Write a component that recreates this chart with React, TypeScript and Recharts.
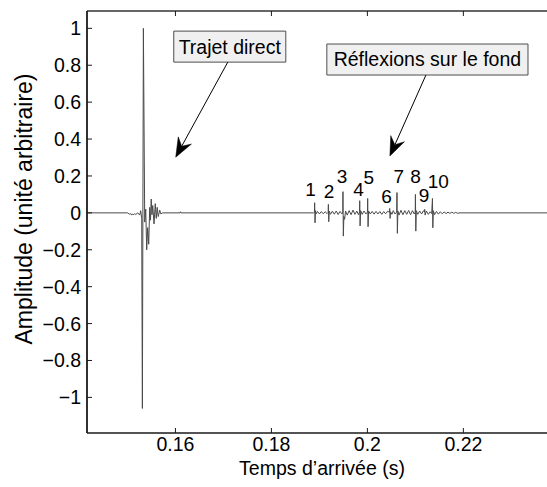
import React from 'react';
import {
  ComposedChart,
  Line,
  XAxis,
  YAxis,
  ReferenceArea,
  ReferenceLine,
  ReferenceDot,
} from 'recharts';

// ---- data ----
const times: number[] = [
  0.14157, 0.15005, 0.15047, 0.15068, 0.15089, 0.1511, 0.1513, 0.15151, 0.15172, 0.15214,
  0.15255, 0.15276, 0.15297, 0.15311, 0.15332, 0.1536, 0.15381, 0.15401, 0.15422, 0.15443,
  0.15464, 0.1548, 0.15495, 0.15511, 0.15527, 0.15554, 0.15579, 0.156, 0.1562, 0.15641,
  0.15673, 0.15693, 0.15735, 0.16095, 0.16104, 0.16113,
  0.1888, 0.18897, 0.18901, 0.18909, 0.18918, 0.1893, 0.1896, 0.19, 0.1904, 0.1908,
  0.1912, 0.1916, 0.19183, 0.19187, 0.19195, 0.19205, 0.1923, 0.1927, 0.1931, 0.1935,
  0.1939, 0.1943, 0.1947, 0.19487, 0.19491, 0.19499, 0.1951, 0.19525, 0.19545, 0.1958,
  0.1962, 0.1966, 0.197, 0.1974, 0.1978, 0.19815, 0.19836, 0.1984, 0.19848, 0.1986,
  0.1989, 0.1993, 0.1997, 0.20002, 0.20006, 0.20014, 0.20025, 0.2006, 0.201, 0.2014,
  0.2018, 0.2022, 0.2026, 0.203, 0.2034, 0.2038, 0.2042, 0.20461, 0.20465, 0.20473,
  0.20485, 0.2051, 0.2054, 0.20575, 0.2061, 0.20617, 0.20625, 0.20636, 0.2066, 0.207,
  0.2074, 0.2078, 0.2082, 0.2086, 0.209, 0.2094, 0.20975, 0.20997, 0.21001, 0.21009,
  0.2102, 0.2105, 0.2109, 0.2113, 0.2117, 0.21191, 0.21195, 0.21203, 0.2123, 0.2127,
  0.2131, 0.2134, 0.21356, 0.21364, 0.21375, 0.214, 0.2144, 0.2148, 0.2152, 0.2156,
  0.216, 0.2164, 0.2168, 0.2172, 0.2176, 0.218, 0.2184, 0.2188, 0.2193, 0.23764,
];
const amplitudes: number[] = [
  0, 0, -0.008, -0.004, -0.012, -0.006, -0.01, -0.004, -0.009, 0.0,
  -0.012, 0.012, -0.03, -1.06, 1.0, -0.05, 0.02, -0.2, -0.08, -0.17,
  0.03, -0.04, 0.075, -0.01, 0.04, -0.06, 0.05, -0.03, 0.03, -0.02,
  0.015, -0.005, 0, 0, 0.006, 0,
  0, 0.004, 0.055, -0.054, 0.012, -0.006, 0.008, -0.006, 0.007, -0.005,
  0.006, -0.004, 0.003, 0.046, -0.048, 0.01, -0.008, 0.009, -0.007, 0.01,
  -0.009, 0.008, -0.006, 0.004, 0.115, -0.126, -0.02, -0.035, 0.01, -0.012,
  0.012, -0.01, 0.015, -0.008, 0.01, -0.01, 0.005, 0.066, -0.071, 0.012,
  -0.008, 0.01, -0.006, 0.004, 0.078, -0.075, 0.01, -0.006, 0.008, -0.007,
  0.008, -0.006, 0.007, -0.008, 0.007, -0.005, 0.008, 0.004, 0.024, -0.03,
  0.006, -0.008, 0.012, -0.006, 0.004, 0.11, -0.111, 0.01, -0.012, 0.014,
  -0.01, 0.012, -0.008, 0.013, -0.01, 0.012, -0.006, 0.004, 0.1, -0.099,
  0.012, -0.008, 0.01, -0.006, 0.012, 0.004, 0.019, -0.012, 0.01, -0.008,
  0.006, -0.004, 0.078, -0.081, 0.012, -0.01, 0.008, -0.007, 0.006, -0.005,
  0.005, -0.004, 0.004, -0.003, 0.004, -0.003, 0.003, -0.002, 0, 0,
];

const xTicks = [0.16, 0.18, 0.2, 0.22];
const xTickLabels = ['0.16', '0.18', '0.2', '0.22'];
const yTicks = [-1, -0.8, -0.6, -0.4, -0.2, 0, 0.2, 0.4, 0.6, 0.8, 1];
const yTickLabels = ['\u22121', '\u22120.8', '\u22120.6', '\u22120.4', '\u22120.2', '0', '0.2', '0.4', '0.6', '0.8', '1'];

const peakLabels = ['1', '2', '3', '4', '5', '6', '7', '8', '9', '10'];
const peakLabelX = [0.18815, 0.19203, 0.19474, 0.19816, 0.20031, 0.204, 0.20657, 0.21005, 0.2118, 0.21477];
const peakLabelY = [0.127, 0.114, 0.195, 0.127, 0.193, 0.091, 0.199, 0.199, 0.093, 0.168];

const boxTexts = ['Trajet direct', 'R\u00e9flexions sur le fond'];
const boxX1 = [0.15965, 0.19155];
const boxX2 = [0.183, 0.23347];
const boxY1 = [0.817, 0.747];
const boxY2 = [0.985, 0.915];
const arrowTail = [
  { x: 0.17091, y: 0.817 },
  { x: 0.2122, y: 0.747 },
];
const arrowTip = [
  { x: 0.16006, y: 0.302 },
  { x: 0.20469, y: 0.308 },
];

const xDomain: [number, number] = [0.14157, 0.23764];
const yDomain: [number, number] = [-1.193, 1.094];

const signal = times.map((t, i) => ({ t, a: amplitudes[i] }));

const FONT = '"Liberation Sans", Arial, Helvetica, sans-serif';
const AXIS_COLOR = '#1a1a1a';
const PLOT_TOP = 11;
const PLOT_BOTTOM = 433;
const PLOT_LEFT = 87;

const BottomTick = (props: any) => {
  const { x, payload } = props;
  const i = xTicks.indexOf(payload.value);
  const y = PLOT_BOTTOM;
  return (
    <g>
      <line x1={x} y1={y} x2={x} y2={y - 5} stroke={AXIS_COLOR} strokeWidth={1} />
      <text x={x} y={y + 18} textAnchor="middle" fontSize={19.5} fill="#000" fontFamily={FONT}>
        {i >= 0 ? xTickLabels[i] : ''}
      </text>
    </g>
  );
};

const TopTick = (props: any) => {
  const { x } = props;
  return <line x1={x} y1={PLOT_TOP} x2={x} y2={PLOT_TOP + 5} stroke={AXIS_COLOR} strokeWidth={1} />;
};

const LeftTick = (props: any) => {
  const { y, payload } = props;
  const i = yTicks.findIndex((v) => Math.abs(v - payload.value) < 1e-9);
  const x = PLOT_LEFT;
  return (
    <g>
      <line x1={x} y1={y} x2={x + 5} y2={y} stroke={AXIS_COLOR} strokeWidth={1} />
      <text x={x - 6} y={y} textAnchor="end" dominantBaseline="central" fontSize={19.5} fill="#000" fontFamily={FONT}>
        {i >= 0 ? yTickLabels[i] : ''}
      </text>
    </g>
  );
};

const XLabel = () => (
  <text x={322} y={PLOT_BOTTOM + 42} textAnchor="middle" fontSize={19.5} fill="#000" fontFamily={FONT}>
    Temps d{'\u2019'}arriv{'\u00e9'}e (s)
  </text>
);

const YLabel = () => {
  const cy = 209;
  const cx = 32;
  return (
    <text
      x={cx}
      y={cy}
      transform={`rotate(-90, ${cx}, ${cy})`}
      textAnchor="middle"
      fontSize={23}
      fill="#000"
      fontFamily={FONT}
    >
      Amplitude (unit{'\u00e9'} arbitraire)
    </text>
  );
};

const Arrow = (p: any) => {
  const { x1, y1, x2, y2 } = p;
  const dx = x2 - x1;
  const dy = y2 - y1;
  const len = Math.hypot(dx, dy) || 1;
  const ux = dx / len;
  const uy = dy / len;
  const nx = -uy;
  const ny = ux;
  const L = 19;
  const W = 7.5;
  const bx = x2 - ux * L;
  const by = y2 - uy * L;
  const notchX = x2 - ux * L * 0.65;
  const notchY = y2 - uy * L * 0.65;
  const pts = [
    [x2, y2],
    [bx + nx * W, by + ny * W],
    [notchX, notchY],
    [bx - nx * W, by - ny * W],
  ]
    .map((q) => q.join(','))
    .join(' ');
  return (
    <g>
      <line x1={x1} y1={y1} x2={notchX} y2={notchY} stroke="#000" strokeWidth={1} />
      <polygon points={pts} fill="#000" stroke="#000" strokeWidth={0.5} />
    </g>
  );
};

export default function App() {
  return (
    <div
      style={{
        position: 'absolute',
        left: 0,
        top: 0,
        width: 547,
        height: 487,
        overflow: 'hidden',
        background: '#fff',
        fontFamily: FONT,
      }}
    >
      <ComposedChart
        width={550}
        height={487}
        data={signal}
        margin={{ top: PLOT_TOP - 1, right: 2, bottom: 487 - PLOT_BOTTOM - 1, left: PLOT_LEFT - 1 }}
        style={{ fontFamily: FONT }}
      >
        <XAxis
          dataKey="t"
          type="number"
          domain={xDomain}
          allowDataOverflow
          ticks={xTicks}
          interval={0}
          height={1}
          tickSize={0}
          tickMargin={0}
          tickLine={false}
          tick={BottomTick}
          axisLine={{ stroke: AXIS_COLOR, strokeWidth: 1.6 }}
          label={{ content: XLabel }}
        />
        <XAxis
          xAxisId="top"
          orientation="top"
          dataKey="t"
          type="number"
          domain={xDomain}
          allowDataOverflow
          ticks={xTicks}
          interval={0}
          height={1}
          tickSize={0}
          tickMargin={0}
          tickLine={false}
          tick={TopTick}
          axisLine={{ stroke: '#333', strokeWidth: 1.4 }}
        />
        <YAxis
          type="number"
          domain={yDomain}
          allowDataOverflow
          ticks={yTicks}
          interval={0}
          width={1}
          tickSize={0}
          tickMargin={0}
          tickLine={false}
          tick={LeftTick}
          axisLine={{ stroke: AXIS_COLOR, strokeWidth: 1.8 }}
          label={{ content: YLabel }}
        />
        <Line
          type="linear"
          dataKey="a"
          stroke="#4a4a4a"
          strokeWidth={1}
          dot={false}
          activeDot={false}
          isAnimationActive={false}
        />
        {boxTexts.map((txt, i) => (
          <ReferenceArea
            key={`box${i}`}
            x1={boxX1[i]}
            x2={boxX2[i]}
            y1={boxY1[i]}
            y2={boxY2[i]}
            fill="#f0f0f0"
            fillOpacity={1}
            stroke="#4d4d4d"
            strokeWidth={1}
            ifOverflow="visible"
            label={{ value: txt, position: 'center', fill: '#000', fontSize: 19.5, fontFamily: FONT }}
          />
        ))}
        {arrowTail.map((tail, i) => (
          <ReferenceLine
            key={`arrow${i}`}
            segment={[tail, arrowTip[i]]}
            ifOverflow="visible"
            shape={Arrow}
          />
        ))}
        {peakLabels.map((txt, i) => (
          <ReferenceDot
            key={`pk${i}`}
            x={peakLabelX[i]}
            y={peakLabelY[i]}
            r={0}
            ifOverflow="visible"
            shape={(p: any) => (
              <text
                x={p.cx}
                y={p.cy}
                textAnchor="middle"
                dominantBaseline="central"
                fontSize={19}
                fill="#000"
                fontFamily={FONT}
              >
                {txt}
              </text>
            )}
          />
        ))}
      </ComposedChart>
    </div>
  );
}
